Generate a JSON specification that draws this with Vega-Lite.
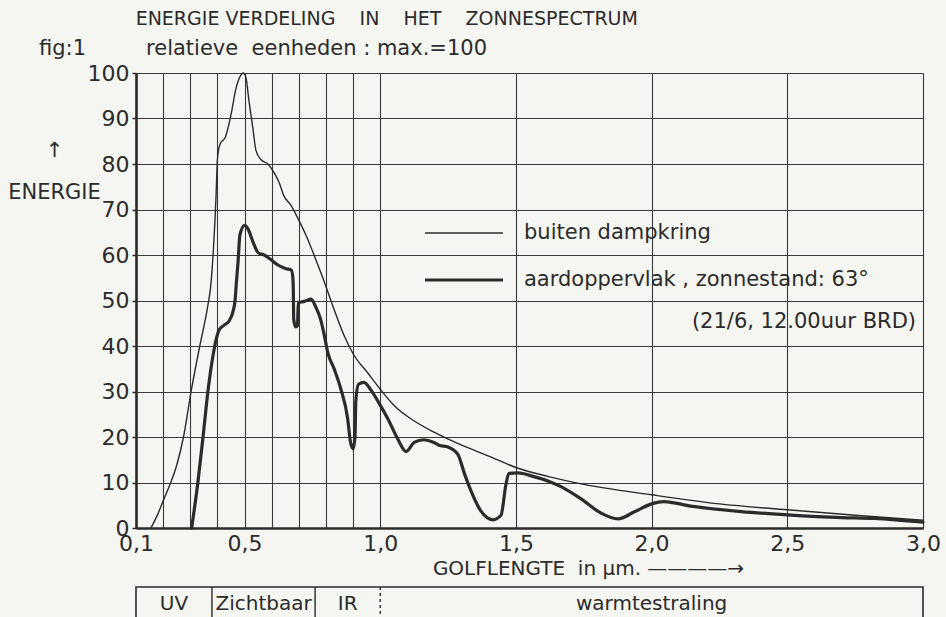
{
  "$schema": "https://vega.github.io/schema/vega-lite/v6.json",
  "background": "#f5f5f2",
  "autosize": {"type": "pad"},
  "padding": {"left": 7, "top": 10, "right": 10, "bottom": 0},
  "title": {
    "text": "\u200b\u00a0\u00a0\u00a0\u00a0\u00a0\u00a0\u00a0\u00a0\u00a0\u00a0\u00a0\u00a0\u00a0\u00a0\u00a0\u00a0ENERGIE VERDELING\u00a0\u00a0\u00a0\u00a0IN\u00a0\u00a0\u00a0\u00a0HET\u00a0\u00a0\u00a0\u00a0ZONNESPECTRUM",
    "subtitle": "fig:1\u00a0\u00a0\u00a0\u00a0\u00a0\u00a0\u00a0\u00a0\u00a0relatieve\u00a0\u00a0eenheden : max.=100",
    "anchor": "start",
    "frame": "group",
    "dx": -97,
    "offset": 3,
    "font": "DejaVu Sans",
    "fontSize": 19,
    "fontWeight": "normal",
    "color": "#2b2b2b",
    "subtitleFont": "DejaVu Sans",
    "subtitleFontSize": 21,
    "subtitleColor": "#2b2b2b",
    "subtitlePadding": 9
  },
  "spacing": 59,
  "bounds": "flush",
  "vconcat": [
    {
      "width": 787,
      "height": 455,
      "data": {
        "values": [
          {"series": "buiten dampkring", "wl": 0.155, "e": 0},
          {"series": "buiten dampkring", "wl": 0.18, "e": 3},
          {"series": "buiten dampkring", "wl": 0.203, "e": 6.4},
          {"series": "buiten dampkring", "wl": 0.228, "e": 10},
          {"series": "buiten dampkring", "wl": 0.25, "e": 13.8},
          {"series": "buiten dampkring", "wl": 0.275, "e": 20},
          {"series": "buiten dampkring", "wl": 0.303, "e": 30},
          {"series": "buiten dampkring", "wl": 0.335, "e": 40},
          {"series": "buiten dampkring", "wl": 0.365, "e": 49},
          {"series": "buiten dampkring", "wl": 0.375, "e": 53},
          {"series": "buiten dampkring", "wl": 0.385, "e": 61},
          {"series": "buiten dampkring", "wl": 0.395, "e": 73},
          {"series": "buiten dampkring", "wl": 0.4, "e": 81},
          {"series": "buiten dampkring", "wl": 0.41, "e": 84.4},
          {"series": "buiten dampkring", "wl": 0.43, "e": 86},
          {"series": "buiten dampkring", "wl": 0.45, "e": 90.8},
          {"series": "buiten dampkring", "wl": 0.468, "e": 96.5},
          {"series": "buiten dampkring", "wl": 0.487, "e": 99.6},
          {"series": "buiten dampkring", "wl": 0.495, "e": 100},
          {"series": "buiten dampkring", "wl": 0.505, "e": 99},
          {"series": "buiten dampkring", "wl": 0.516, "e": 94},
          {"series": "buiten dampkring", "wl": 0.531, "e": 87.7},
          {"series": "buiten dampkring", "wl": 0.542, "e": 83},
          {"series": "buiten dampkring", "wl": 0.56, "e": 81},
          {"series": "buiten dampkring", "wl": 0.586, "e": 80},
          {"series": "buiten dampkring", "wl": 0.61, "e": 78},
          {"series": "buiten dampkring", "wl": 0.627, "e": 76},
          {"series": "buiten dampkring", "wl": 0.645, "e": 73},
          {"series": "buiten dampkring", "wl": 0.67, "e": 71},
          {"series": "buiten dampkring", "wl": 0.697, "e": 68},
          {"series": "buiten dampkring", "wl": 0.726, "e": 64.4},
          {"series": "buiten dampkring", "wl": 0.756, "e": 60},
          {"series": "buiten dampkring", "wl": 0.79, "e": 54.7},
          {"series": "buiten dampkring", "wl": 0.83, "e": 48},
          {"series": "buiten dampkring", "wl": 0.866, "e": 42.4},
          {"series": "buiten dampkring", "wl": 0.9, "e": 38.3},
          {"series": "buiten dampkring", "wl": 0.955, "e": 34},
          {"series": "buiten dampkring", "wl": 1.0, "e": 30.5},
          {"series": "buiten dampkring", "wl": 1.05, "e": 27},
          {"series": "buiten dampkring", "wl": 1.113, "e": 24},
          {"series": "buiten dampkring", "wl": 1.2, "e": 21},
          {"series": "buiten dampkring", "wl": 1.3, "e": 18.2},
          {"series": "buiten dampkring", "wl": 1.4, "e": 15.8},
          {"series": "buiten dampkring", "wl": 1.5, "e": 13.3},
          {"series": "buiten dampkring", "wl": 1.62, "e": 11.3},
          {"series": "buiten dampkring", "wl": 1.75, "e": 9.6},
          {"series": "buiten dampkring", "wl": 2.0, "e": 7.3},
          {"series": "buiten dampkring", "wl": 2.25, "e": 5.3},
          {"series": "buiten dampkring", "wl": 2.5, "e": 4},
          {"series": "buiten dampkring", "wl": 2.75, "e": 2.8},
          {"series": "buiten dampkring", "wl": 3.0, "e": 1.7},
          {"series": "aardoppervlak , zonnestand: 63°", "wl": 0.305, "e": 0},
          {"series": "aardoppervlak , zonnestand: 63°", "wl": 0.328, "e": 10},
          {"series": "aardoppervlak , zonnestand: 63°", "wl": 0.347, "e": 20},
          {"series": "aardoppervlak , zonnestand: 63°", "wl": 0.365, "e": 30},
          {"series": "aardoppervlak , zonnestand: 63°", "wl": 0.387, "e": 39},
          {"series": "aardoppervlak , zonnestand: 63°", "wl": 0.406, "e": 43.5},
          {"series": "aardoppervlak , zonnestand: 63°", "wl": 0.425, "e": 44.6},
          {"series": "aardoppervlak , zonnestand: 63°", "wl": 0.443, "e": 45.5},
          {"series": "aardoppervlak , zonnestand: 63°", "wl": 0.457, "e": 47.5},
          {"series": "aardoppervlak , zonnestand: 63°", "wl": 0.465, "e": 50},
          {"series": "aardoppervlak , zonnestand: 63°", "wl": 0.47, "e": 54},
          {"series": "aardoppervlak , zonnestand: 63°", "wl": 0.476, "e": 58.5},
          {"series": "aardoppervlak , zonnestand: 63°", "wl": 0.483, "e": 64.4},
          {"series": "aardoppervlak , zonnestand: 63°", "wl": 0.5, "e": 66.5},
          {"series": "aardoppervlak , zonnestand: 63°", "wl": 0.513, "e": 65.7},
          {"series": "aardoppervlak , zonnestand: 63°", "wl": 0.531, "e": 62.9},
          {"series": "aardoppervlak , zonnestand: 63°", "wl": 0.55, "e": 60.5},
          {"series": "aardoppervlak , zonnestand: 63°", "wl": 0.572, "e": 60},
          {"series": "aardoppervlak , zonnestand: 63°", "wl": 0.597, "e": 59},
          {"series": "aardoppervlak , zonnestand: 63°", "wl": 0.623, "e": 57.8},
          {"series": "aardoppervlak , zonnestand: 63°", "wl": 0.653, "e": 57},
          {"series": "aardoppervlak , zonnestand: 63°", "wl": 0.672, "e": 56.7},
          {"series": "aardoppervlak , zonnestand: 63°", "wl": 0.678, "e": 55},
          {"series": "aardoppervlak , zonnestand: 63°", "wl": 0.68, "e": 51},
          {"series": "aardoppervlak , zonnestand: 63°", "wl": 0.681, "e": 46},
          {"series": "aardoppervlak , zonnestand: 63°", "wl": 0.688, "e": 44.2},
          {"series": "aardoppervlak , zonnestand: 63°", "wl": 0.695, "e": 44.5},
          {"series": "aardoppervlak , zonnestand: 63°", "wl": 0.698, "e": 49.5},
          {"series": "aardoppervlak , zonnestand: 63°", "wl": 0.72, "e": 49.8},
          {"series": "aardoppervlak , zonnestand: 63°", "wl": 0.745, "e": 50.3},
          {"series": "aardoppervlak , zonnestand: 63°", "wl": 0.763, "e": 48.5},
          {"series": "aardoppervlak , zonnestand: 63°", "wl": 0.78, "e": 45.9},
          {"series": "aardoppervlak , zonnestand: 63°", "wl": 0.793, "e": 42.6},
          {"series": "aardoppervlak , zonnestand: 63°", "wl": 0.807, "e": 38.5},
          {"series": "aardoppervlak , zonnestand: 63°", "wl": 0.83, "e": 35},
          {"series": "aardoppervlak , zonnestand: 63°", "wl": 0.855, "e": 30.5},
          {"series": "aardoppervlak , zonnestand: 63°", "wl": 0.88, "e": 24},
          {"series": "aardoppervlak , zonnestand: 63°", "wl": 0.89, "e": 19},
          {"series": "aardoppervlak , zonnestand: 63°", "wl": 0.9, "e": 17.4},
          {"series": "aardoppervlak , zonnestand: 63°", "wl": 0.907, "e": 20},
          {"series": "aardoppervlak , zonnestand: 63°", "wl": 0.91, "e": 28},
          {"series": "aardoppervlak , zonnestand: 63°", "wl": 0.92, "e": 31.6},
          {"series": "aardoppervlak , zonnestand: 63°", "wl": 0.94, "e": 32},
          {"series": "aardoppervlak , zonnestand: 63°", "wl": 0.966, "e": 30.3},
          {"series": "aardoppervlak , zonnestand: 63°", "wl": 0.995, "e": 27.5},
          {"series": "aardoppervlak , zonnestand: 63°", "wl": 1.028, "e": 24},
          {"series": "aardoppervlak , zonnestand: 63°", "wl": 1.065, "e": 19.5},
          {"series": "aardoppervlak , zonnestand: 63°", "wl": 1.095, "e": 16.8},
          {"series": "aardoppervlak , zonnestand: 63°", "wl": 1.125, "e": 18.8},
          {"series": "aardoppervlak , zonnestand: 63°", "wl": 1.16, "e": 19.4},
          {"series": "aardoppervlak , zonnestand: 63°", "wl": 1.198, "e": 18.8},
          {"series": "aardoppervlak , zonnestand: 63°", "wl": 1.216, "e": 18.2},
          {"series": "aardoppervlak , zonnestand: 63°", "wl": 1.25, "e": 17.8},
          {"series": "aardoppervlak , zonnestand: 63°", "wl": 1.286, "e": 16.2},
          {"series": "aardoppervlak , zonnestand: 63°", "wl": 1.31, "e": 12},
          {"series": "aardoppervlak , zonnestand: 63°", "wl": 1.334, "e": 8.2},
          {"series": "aardoppervlak , zonnestand: 63°", "wl": 1.37, "e": 3.8},
          {"series": "aardoppervlak , zonnestand: 63°", "wl": 1.415, "e": 1.8},
          {"series": "aardoppervlak , zonnestand: 63°", "wl": 1.445, "e": 2.8},
          {"series": "aardoppervlak , zonnestand: 63°", "wl": 1.463, "e": 9.5},
          {"series": "aardoppervlak , zonnestand: 63°", "wl": 1.474, "e": 12},
          {"series": "aardoppervlak , zonnestand: 63°", "wl": 1.507, "e": 12.1},
          {"series": "aardoppervlak , zonnestand: 63°", "wl": 1.566, "e": 11.3},
          {"series": "aardoppervlak , zonnestand: 63°", "wl": 1.62, "e": 10.3},
          {"series": "aardoppervlak , zonnestand: 63°", "wl": 1.666, "e": 9.1},
          {"series": "aardoppervlak , zonnestand: 63°", "wl": 1.74, "e": 6.4},
          {"series": "aardoppervlak , zonnestand: 63°", "wl": 1.813, "e": 3.3},
          {"series": "aardoppervlak , zonnestand: 63°", "wl": 1.876, "e": 2},
          {"series": "aardoppervlak , zonnestand: 63°", "wl": 1.935, "e": 3.5},
          {"series": "aardoppervlak , zonnestand: 63°", "wl": 2.0, "e": 5.3},
          {"series": "aardoppervlak , zonnestand: 63°", "wl": 2.045, "e": 5.8},
          {"series": "aardoppervlak , zonnestand: 63°", "wl": 2.145, "e": 4.8},
          {"series": "aardoppervlak , zonnestand: 63°", "wl": 2.33, "e": 3.6},
          {"series": "aardoppervlak , zonnestand: 63°", "wl": 2.5, "e": 2.9},
          {"series": "aardoppervlak , zonnestand: 63°", "wl": 2.7, "e": 2.3},
          {"series": "aardoppervlak , zonnestand: 63°", "wl": 2.82, "e": 2.1},
          {"series": "aardoppervlak , zonnestand: 63°", "wl": 2.9, "e": 1.8},
          {"series": "aardoppervlak , zonnestand: 63°", "wl": 3.0, "e": 1.3}
        ]
      },
      "mark": {"type": "line", "interpolate": "monotone", "color": "#2b2b2b", "strokeJoin": "round", "strokeCap": "round"},
      "encoding": {
        "x": {
          "field": "wl",
          "type": "quantitative",
          "scale": {"domain": [0.1, 3.0], "nice": false, "zero": false},
          "axis": {
            "values": [0.1, 0.2, 0.3, 0.4, 0.5, 0.6, 0.7, 0.8, 0.9, 1.0, 1.5, 2.0, 2.5, 3.0],
            "labelExpr": "indexof([1,5,10,15,20,25,30], round(datum.value*10)) >= 0 ? replace(format(datum.value, '.1f'), '.', ',') : ''",
            "labelOverlap": false,
            "labelFlush": false,
            "labelBound": false,
            "labelFontSize": 22,
            "labelPadding": 5,
            "ticks": false,
            "domainWidth": 2.6,
            "title": "GOLFLENGTE\u00a0\u00a0in\u00a0µm.\u00a0\u2014\u2014\u2014\u2014\u2192",
            "titleFontSize": 20,
            "titleX": 452,
            "titleY": 40,
            "titleAlign": "center",
            "titleBaseline": "middle"
          }
        },
        "y": {
          "field": "e",
          "type": "quantitative",
          "scale": {"domain": [0, 100], "nice": false},
          "axis": {
            "values": [0, 10, 20, 30, 40, 50, 60, 70, 80, 90, 100],
            "format": "d",
            "labelFontSize": 22,
            "labelPadding": 3,
            "tickSize": 4,
            "tickWidth": 1.5,
            "domainWidth": 2.6,
            "title": ["↑", "ENERGIE"],
            "titleFontSize": 21,
            "titleLineHeight": 42,
            "titleAngle": 0,
            "titleAlign": "center",
            "titleBaseline": "alphabetic",
            "titleX": -82,
            "titleY": 83
          }
        },
        "strokeWidth": {
          "field": "series",
          "type": "ordinal",
          "scale": {"domain": ["buiten dampkring", "aardoppervlak , zonnestand: 63°"], "range": [1.4, 3.2]},
          "legend": {
            "orient": "none",
            "legendX": 287,
            "legendY": 140,
            "padding": 0,
            "symbolType": "stroke",
            "symbolSize": 6084,
            "symbolStrokeColor": "#2b2b2b",
            "clipHeight": 40,
            "rowPadding": 7,
            "labelFont": "DejaVu Sans",
            "labelFontSize": 21,
            "labelOffset": 19,
            "labelLimit": 700,
            "labelColor": "#2b2b2b",
            "labelExpr": "datum.label == 'buiten dampkring' ? datum.label : datum.label + '\u00a0\u00a0\u00a0\u00a0\u00a0\u00a0\u00a0\u200b'",
            "title": "(21/6, 12.00uur BRD)",
            "titleOrient": "bottom",
            "titleAnchor": "end",
            "titleFont": "DejaVu Sans",
            "titleFontSize": 21,
            "titleFontWeight": "normal",
            "titleColor": "#2b2b2b",
            "titlePadding": 11,
            "titleLimit": 600
          }
        }
      }
    },
    {
      "width": 787,
      "height": 33,
      "layer": [
        {
          "data": {"values": [{"from": 0.1, "to": 3.0}]},
          "mark": {"type": "rect", "fill": "#f5f5f2", "stroke": "#2b2b2b", "strokeWidth": 1.6},
          "encoding": {
            "x": {"field": "from", "type": "quantitative", "scale": {"domain": [0.1, 3.0], "nice": false, "zero": false}, "axis": null},
            "x2": {"field": "to"}
          }
        },
        {
          "data": {"values": [
            {"at": 0.38, "line": "solid"},
            {"at": 0.76, "line": "solid"},
            {"at": 1.0, "line": "dashed"}
          ]},
          "mark": {"type": "rule", "color": "#2b2b2b", "strokeWidth": 1.4},
          "encoding": {
            "x": {"field": "at", "type": "quantitative", "scale": {"domain": [0.1, 3.0], "nice": false, "zero": false}, "axis": null},
            "strokeDash": {"field": "line", "type": "nominal", "scale": {"domain": ["solid", "dashed"], "range": [[1, 0], [3, 3]]}, "legend": null}
          }
        },
        {
          "data": {"values": [
            {"region": "UV", "from": 0.1, "to": 0.38},
            {"region": "Zichtbaar", "from": 0.38, "to": 0.76},
            {"region": "IR", "from": 0.76, "to": 1.0},
            {"region": "warmtestraling", "from": 1.0, "to": 3.0}
          ]},
          "transform": [{"calculate": "(datum.from + datum.to) / 2", "as": "mid"}],
          "mark": {"type": "text", "fontSize": 20, "font": "DejaVu Sans", "color": "#2b2b2b", "baseline": "middle", "align": "center"},
          "encoding": {
            "x": {"field": "mid", "type": "quantitative", "scale": {"domain": [0.1, 3.0], "nice": false, "zero": false}, "axis": null},
            "text": {"field": "region"}
          }
        }
      ]
    }
  ],
  "config": {
    "font": "DejaVu Sans",
    "view": {"stroke": null},
    "axis": {
      "labelFont": "DejaVu Sans",
      "titleFont": "DejaVu Sans",
      "labelColor": "#2b2b2b",
      "titleColor": "#2b2b2b",
      "titleFontWeight": "normal",
      "grid": true,
      "gridColor": "#3a3a3a",
      "gridOpacity": 1,
      "gridWidth": 1.1,
      "domainColor": "#2b2b2b",
      "tickColor": "#2b2b2b"
    }
  }
}
